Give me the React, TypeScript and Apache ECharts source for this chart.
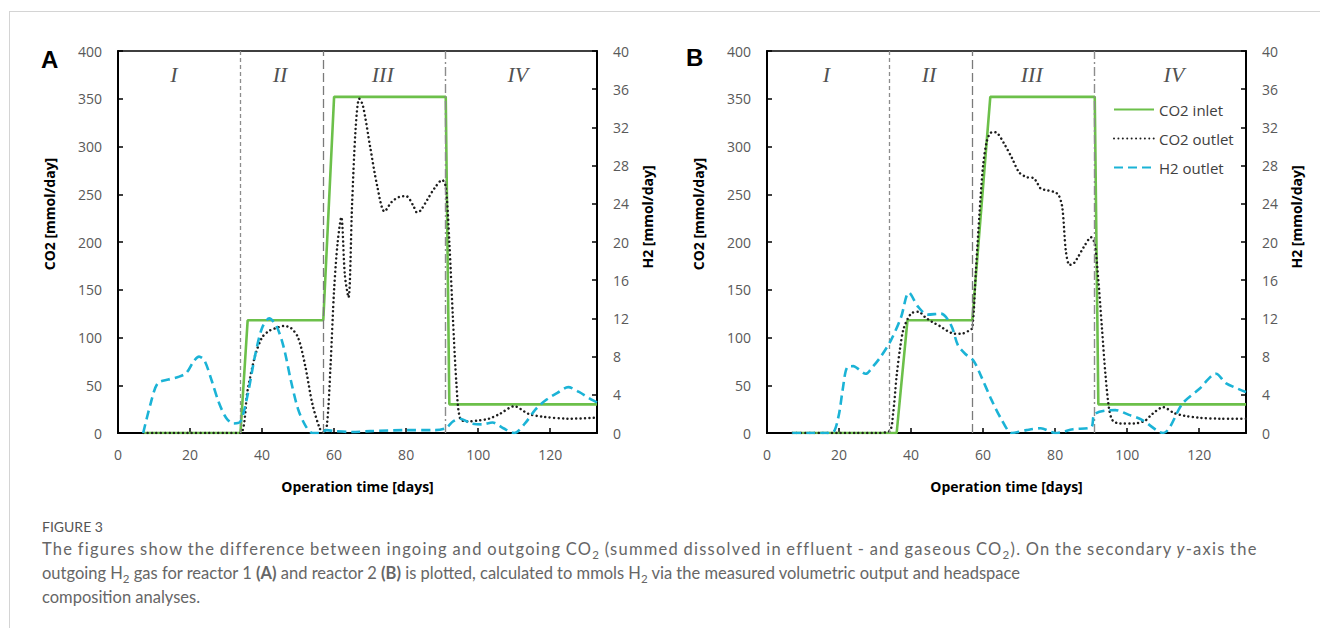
import React, { useEffect, useRef } from 'react';
import * as echarts from 'echarts';

const FONT = "'Open Sans', 'DejaVu Sans', sans-serif";

// ---------- Axis definitions ----------
const xMax = 133;
const co2Max = 400;
const co2Step = 50;
const h2Max = 40;
const h2Step = 4;
const phaseBoundaries = [34, 57, 91];
const romanLabels = ['I', 'II', 'III', 'IV'];
const romanDaysA = [15.5, 45, 73.5, 111];
const romanDaysB = [16.5, 45, 73.5, 113];
const romanLevel = 375;

// ---------- Panel A (reactor 1) ----------
const aInletDays = [7, 34, 36, 57, 60, 91, 92, 133];
const aInletCO2 = [0, 0, 118, 118, 352, 352, 30, 30];

const aOutletDays = [7, 10, 15, 20, 25, 30, 34, 36, 38, 40, 42, 44, 46, 48, 50, 52, 54, 56, 57, 58, 59, 60, 61, 62, 63, 64, 65, 66, 67, 68, 70, 72, 74, 76, 78, 80, 82, 83, 84, 86, 88, 90, 91, 92, 93, 94, 95, 97, 100, 103, 106, 110, 114, 118, 125, 133];
const aOutletCO2 = [0, 0, 0, 0, 0, 0, 0, 45, 80, 100, 107, 110, 112, 110, 100, 70, 30, 5, 0, 8, 70, 150, 200, 226, 165, 142, 240, 320, 350, 343, 300, 258, 232, 242, 247, 248, 238, 231, 233, 245, 257, 265, 258, 200, 120, 50, 15, 12, 13, 15, 20, 28, 20, 17, 15, 16];

const aH2Days = [7, 9, 11, 14, 17, 19, 21, 22.5, 24, 26, 28, 30, 32, 34, 36, 38, 40, 42, 44, 46, 48, 50, 52, 54, 56, 58, 60, 65, 70, 80, 88, 91, 93, 95, 98, 101, 104, 107, 110, 113, 116, 119, 122, 125, 128, 131, 133];
const aH2 = [0, 3, 5.2, 5.6, 5.9, 6.3, 7.5, 8.0, 7.6, 5.5, 3.2, 1.6, 1.0, 1.2, 4, 8, 11, 12, 11.2, 9, 5.5, 2.5, 0.8, 0, 0, 0.3, 0.2, 0.1, 0.2, 0.3, 0.3, 0.5, 1.2, 1.5, 1.0, 0.9, 1.1, 0.5, 0, 1.0, 2.5, 3.5, 4.2, 4.8, 4.3, 3.6, 3.2];

// ---------- Panel B (reactor 2) ----------
const bInletDays = [7, 36, 39, 57, 62, 91, 92, 133];
const bInletCO2 = [0, 0, 118, 118, 352, 352, 30, 30];

const bOutletDays = [7, 15, 20, 25, 30, 34, 35, 36, 37, 38, 40, 42, 44, 46, 48, 50, 52, 54, 56, 57, 58, 59, 60, 61, 62, 63, 64, 66, 68, 70, 72, 74, 75, 76, 78, 80, 81, 82, 83, 84, 85, 86, 88, 90, 91, 92, 93, 94, 95, 96, 98, 102, 105, 107, 110, 113, 116, 120, 126, 133];
const bOutletCO2 = [0, 0, 0, 0, 0, 2, 20, 60, 90, 110, 125, 127, 121, 116, 112, 107, 104, 104, 107, 110, 170, 230, 280, 305, 314, 315, 314, 302, 288, 273, 268, 267, 262, 256, 254, 252, 249, 236, 190, 176, 177, 182, 195, 205, 198, 160, 110, 60, 25, 13, 10, 10, 13, 20, 27, 21, 18, 16, 15, 15];

const bH2Days = [7, 12, 17, 18.5, 20, 21, 22.3, 24, 25, 27.4, 29.5, 31.6, 34.4, 37.2, 39.4, 42, 44.6, 48.3, 51.1, 53, 55, 57.3, 59.5, 62.3, 65, 68, 72, 76, 80, 85, 90, 91, 96.7, 100.5, 104, 110, 115.4, 120, 124.7, 127.5, 133];
const bH2 = [0, 0, 0, 0.1, 2, 4.5, 6.9, 7.0, 6.8, 6.2, 7.0, 8.0, 9.7, 12.1, 14.7, 13.2, 12.4, 12.5, 11.3, 9.2, 8.3, 7.6, 5.9, 3.5, 1.5, 0, 0.3, 0.5, 0, 0.4, 0.6, 2.0, 2.4, 1.9, 1.4, 0, 3.1, 4.6, 6.2, 5.2, 4.3];

const legendNames = ['CO2 inlet', 'CO2 outlet', 'H2 outlet'];

const GREEN = '#6cc04a';
const BLACK = '#1e1e1e';
const CYAN = '#1bb3d6';

const zip = (xs: number[], ys: number[]) => xs.map((x, i) => [x, ys[i]]);

function buildOption() {
  const grids = [
    { left: 118, top: 51, width: 479, height: 382 },
    { left: 767, top: 51, width: 479, height: 382 },
  ].map((g) => ({ ...g, show: true, borderColor: '#000', borderWidth: 1.5, backgroundColor: 'transparent' }));

  const tickLabel = { color: '#595959', fontSize: 14, fontFamily: FONT };
  const nameStyle = { color: '#000', fontSize: 14, fontWeight: 'bold' as const, fontFamily: FONT };
  const axisLine = { show: true, onZero: false, lineStyle: { color: '#000', width: 2 } };
  const axisTick = { show: true, inside: true, length: 5, lineStyle: { color: '#000', width: 1.5 } };

  const xAxis = [0, 1].map((gi) => ({
    type: 'value',
    gridIndex: gi,
    min: 0,
    max: xMax,
    interval: 20,
    axisLine,
    axisTick,
    splitLine: { show: false },
    axisLabel: { ...tickLabel, margin: 14, showMaxLabel: false },
    name: 'Operation time [days]',
    nameLocation: 'middle',
    nameGap: 46,
    nameTextStyle: nameStyle,
  }));

  const yAxis: any[] = [];
  [0, 1].forEach((gi) => {
    yAxis.push({
      type: 'value',
      gridIndex: gi,
      position: 'left',
      min: 0,
      max: co2Max,
      interval: co2Step,
      axisLine,
      axisTick,
      splitLine: { show: false },
      axisLabel: { ...tickLabel, margin: 16 },
      name: 'CO2 [mmol/day]',
      nameLocation: 'middle',
      nameRotate: 90,
      nameGap: 62,
      nameTextStyle: { ...nameStyle, padding: [0, 0, 0, 56] },
    });
    yAxis.push({
      type: 'value',
      gridIndex: gi,
      position: 'right',
      min: 0,
      max: h2Max,
      interval: h2Step,
      axisLine,
      axisTick,
      splitLine: { show: false },
      axisLabel: { ...tickLabel, margin: 16 },
      name: 'H2 [mmol/day]',
      nameLocation: 'middle',
      nameRotate: 90,
      nameGap: 43,
      nameTextStyle: { ...nameStyle, padding: [0, 0, 0, 50] },
    });
  });

  const boundaryStyles = [
    { type: [4, 3], color: '#8c8c8c', width: 1.3 },
    { type: [9, 4], color: '#7a7a7a', width: 1.3 },
    { type: [9, 3, 2, 3], color: '#8c8c8c', width: 1.4 },
  ];

  const panels = [
    { inlet: zip(aInletDays, aInletCO2), outlet: zip(aOutletDays, aOutletCO2), h2: zip(aH2Days, aH2), roman: romanDaysA },
    { inlet: zip(bInletDays, bInletCO2), outlet: zip(bOutletDays, bOutletCO2), h2: zip(bH2Days, bH2), roman: romanDaysB },
  ];

  const series: any[] = [];
  panels.forEach((p, gi) => {
    series.push({
      name: 'CO2 inlet',
      type: 'line',
      xAxisIndex: gi,
      yAxisIndex: gi * 2,
      data: p.inlet,
      symbol: 'none',
      lineStyle: { color: GREEN, width: 2.6 },
      itemStyle: { color: GREEN },
      z: 3,
      markLine: {
        silent: true,
        symbol: ['none', 'none'],
        label: { show: false },
        data: phaseBoundaries.map((d, i) => ({ xAxis: d, lineStyle: boundaryStyles[i] })),
      },
    });
    series.push({
      name: 'CO2 outlet',
      type: 'line',
      xAxisIndex: gi,
      yAxisIndex: gi * 2,
      data: p.outlet,
      symbol: 'none',
      smooth: 0.3,
      lineStyle: { color: BLACK, width: 2.5, type: [0.01, 4.4], cap: 'round' },
      itemStyle: { color: BLACK },
      z: 4,
    });
    series.push({
      name: 'H2 outlet',
      type: 'line',
      xAxisIndex: gi,
      yAxisIndex: gi * 2 + 1,
      data: p.h2,
      symbol: 'none',
      smooth: 0.3,
      lineStyle: { color: CYAN, width: 2.6, type: [9, 5] },
      itemStyle: { color: CYAN },
      z: 5,
    });
    series.push({
      name: 'phase',
      type: 'scatter',
      xAxisIndex: gi,
      yAxisIndex: gi * 2,
      symbolSize: 0,
      silent: true,
      data: p.roman.map((d, i) => ({ value: [d, romanLevel], label: { formatter: romanLabels[i] } })),
      label: {
        show: true,
        position: 'inside',
        color: '#222',
        fontSize: 22,
        fontStyle: 'italic',
        fontFamily: "'Liberation Serif', 'Times New Roman', serif",
      },
    });
  });

  return {
    animation: false,
    grid: grids,
    xAxis,
    yAxis,
    series,
    legend: {
      data: legendNames,
      orient: 'vertical',
      left: 1108,
      top: 97,
      itemWidth: 40,
      itemHeight: 12,
      itemGap: 14,
      selectedMode: false,
      itemStyle: { opacity: 0 },
      textStyle: { color: '#404040', fontSize: 15, fontFamily: FONT },
    },
    graphic: [
      { type: 'text', left: 41, top: 47, style: { text: 'A', fontSize: 24, fontWeight: 'bold', fill: '#000', fontFamily: "'Liberation Sans', Arial, sans-serif" } },
      { type: 'text', left: 686, top: 45, style: { text: 'B', fontSize: 24, fontWeight: 'bold', fill: '#000', fontFamily: "'Liberation Sans', Arial, sans-serif" } },
    ],
  };
}

export default function App() {
  const ref = useRef<HTMLDivElement>(null);
  useEffect(() => {
    if (!ref.current) return;
    const chart = echarts.init(ref.current, undefined, { renderer: 'svg' });
    chart.setOption(buildOption() as any);
    return () => chart.dispose();
  }, []);

  const capFont = "'Lato', 'Open Sans', sans-serif";
  const sub: React.CSSProperties = { fontSize: '0.7em', lineHeight: 0, verticalAlign: 'baseline', position: 'relative', top: '0.35em' };
  return (
    <div style={{ position: 'fixed', left: 0, top: 0, width: 1320, height: 628, background: '#fff', overflow: 'hidden' }}>
      <div style={{ position: 'absolute', left: 9, top: 11, width: 1311, height: 1, background: '#d4d4d4' }} />
      <div style={{ position: 'absolute', left: 9, top: 11, width: 1, height: 617, background: '#d4d4d4' }} />
      <div ref={ref} style={{ position: 'absolute', left: 0, top: 0, width: 1320, height: 500 }} />
      <div style={{ position: 'absolute', left: 42, top: 518, fontFamily: capFont, fontSize: 14, color: '#555' }}>FIGURE 3</div>
      <div style={{ position: 'absolute', left: 42, top: 537, width: 1270, fontFamily: capFont, fontSize: 16.5, lineHeight: '24px', color: '#666', whiteSpace: 'nowrap' }}>
        <span style={{ letterSpacing: '1.25px', wordSpacing: '-1px' }}>
          The figures show the difference between ingoing and outgoing CO<sub style={sub}>2</sub> (summed dissolved in effluent - and gaseous CO<sub style={sub}>2</sub>). On the secondary <i>y</i>-axis the
        </span>
        <br />
        outgoing H<sub style={sub}>2</sub> gas for reactor 1 <b>(A)</b> and reactor 2 <b>(B)</b> is plotted, calculated to mmols H<sub style={sub}>2</sub> via the measured volumetric output and headspace
        <br />
        composition analyses.
      </div>
    </div>
  );
}
